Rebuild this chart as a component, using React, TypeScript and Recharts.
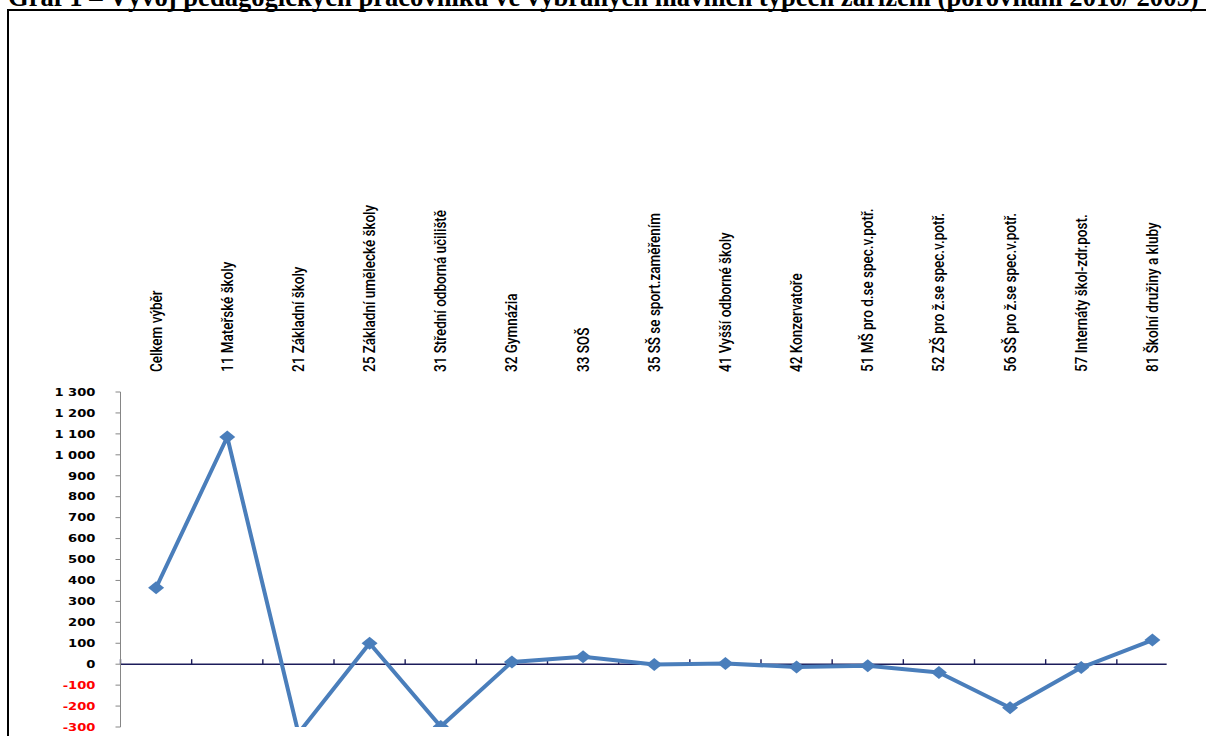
import React from 'react';
import { LineChart, Line, XAxis, YAxis, ReferenceLine } from 'recharts';

const title =
  'Graf 1 – Vývoj pedagogických pracovníků ve vybraných hlavních typech zařízení (porovnání 2010/ 2009)';

const categories = [
  'Celkem výběr',
  '11 Mateřské školy',
  '21 Základní školy',
  '25 Základní umělecké školy',
  '31 Střední odborná učiliště',
  '32 Gymnázia',
  '33 SOŠ',
  '35 SŠ se sport.zaměřením',
  '41 Vyšší odborné školy',
  '42 Konzervatoře',
  '51 MŠ pro d.se spec.v.potř.',
  '52 ZŠ pro ž.se spec.v.potř.',
  '56 SŠ pro ž.se spec.v.potř.',
  '57 Internáty škol-zdr.post.',
  '81 Školní družiny a kluby',
];

const values = [365, 1085, -330, 100, -298, 11, 36, -2, 3, -13, -8, -40, -208, -16, 115];

const yTicks = [-300, -200, -100, 0, 100, 200, 300, 400, 500, 600, 700, 800, 900, 1000, 1100, 1200, 1300];

const data = categories.map((name, i) => ({ name, value: values[i] }));

const LINE_COLOR = '#4a7ebb';
const AXIS_NAVY = '#1c1c5a';

const fmt = (v: number) => String(v).replace(/\B(?=(\d{3})+(?!\d))/g, ' ');

function YTick(props: any) {
  const { x, y, payload } = props;
  const v = payload.value as number;
  return (
    <g transform={`translate(${x},${y}) scale(1.25,1)`}>
      <text
        x={0}
        y={0}
        dy="0.36em"
        textAnchor="end"
        fill={v < 0 ? '#ff0000' : '#000000'}
        style={{ fontFamily: 'DejaVu Sans', fontWeight: 700, fontSize: 10.5 }}
      >
        {fmt(v)}
      </text>
    </g>
  );
}

function CatTick(props: any) {
  const { x, y, payload } = props;
  return (
    <g transform={`translate(${x},${y}) scale(1.25,1) rotate(-90)`}>
      <text
        x={0}
        y={0}
        textAnchor="start"
        dy="0.33em"
        fill="#000000"
        style={{ fontFamily: 'Roboto', fontWeight: 500, fontSize: 13.5 }}
      >
        {payload.value}
      </text>
    </g>
  );
}

function Diamond(props: any) {
  const { cx, cy } = props;
  if (cx == null || cy == null) return null;
  return (
    <path
      d={`M${cx},${cy - 6.5} L${cx + 8},${cy} L${cx},${cy + 6.5} L${cx - 8},${cy} Z`}
      fill={LINE_COLOR}
      stroke="none"
    />
  );
}

// Zero (category) axis: drawn from the reference line's own end points
function ZeroAxis(props: any) {
  const { x1, x2, y1 } = props;
  const left = Math.min(x1, x2);
  const right = Math.max(x1, x2);
  const n = categories.length;
  const step = (right - left) / n;
  const end = left + step * 14.7;
  return (
    <g>
      <line x1={left} y1={y1} x2={end} y2={y1} stroke={AXIS_NAVY} strokeWidth={1.4} />
      {categories.map((_, k) => (
        <line
          key={k}
          x1={left + k * step}
          y1={y1}
          x2={left + k * step}
          y2={y1 - 5}
          stroke={AXIS_NAVY}
          strokeWidth={1.4}
        />
      ))}
    </g>
  );
}

export default function App() {
  return (
    <div
      style={{
        position: 'absolute',
        left: 0,
        top: 0,
        width: 1206,
        height: 736,
        overflow: 'hidden',
        background: '#ffffff',
      }}
    >
      <svg style={{ position: 'absolute', left: 0, top: 0 }} width={1206} height={14}>
        <text
          x={8}
          y={6}
          style={{ fontFamily: 'Liberation Serif', fontWeight: 700, fontSize: 26.6 }}
          fill="#000"
        >
          {title}
        </text>
      </svg>
      <div
        style={{
          position: 'absolute',
          left: 7,
          top: 8.5,
          width: 1400,
          height: 900,
          border: '2.4px solid #000',
          boxSizing: 'border-box',
        }}
      />
      <div style={{ position: 'absolute', left: 0, top: 0 }}>
        <LineChart
          width={1206}
          height={736}
          data={data}
          margin={{ top: 372, right: 18, bottom: 9, left: 0 }}
        >
          <XAxis
            xAxisId="cat"
            dataKey="name"
            orientation="top"
            height={20}
            padding={{ left: 35.6, right: 35.6 }}
            axisLine={false}
            tickLine={false}
            tickSize={6}
            tickMargin={14}
            interval={0}
            tick={<CatTick />}
          />
          <YAxis
            yAxisId="v"
            width={120.5}
            domain={[-300, 1300]}
            ticks={yTicks}
            interval={0}
            allowDataOverflow
            axisLine={{ stroke: '#868686' }}
            tickLine={{ stroke: '#868686' }}
            tickSize={5}
            tickMargin={20}
            tick={<YTick />}
          />
          <ReferenceLine
            xAxisId="cat"
            yAxisId="v"
            y={0}
            stroke={AXIS_NAVY}
            shape={(p: any) => <ZeroAxis {...p} />}
          />
          <Line
            xAxisId="cat"
            yAxisId="v"
            dataKey="value"
            stroke={LINE_COLOR}
            strokeWidth={4}
            strokeLinejoin="round"
            dot={<Diamond />}
            activeDot={false}
            isAnimationActive={false}
          />
        </LineChart>
      </div>
    </div>
  );
}
